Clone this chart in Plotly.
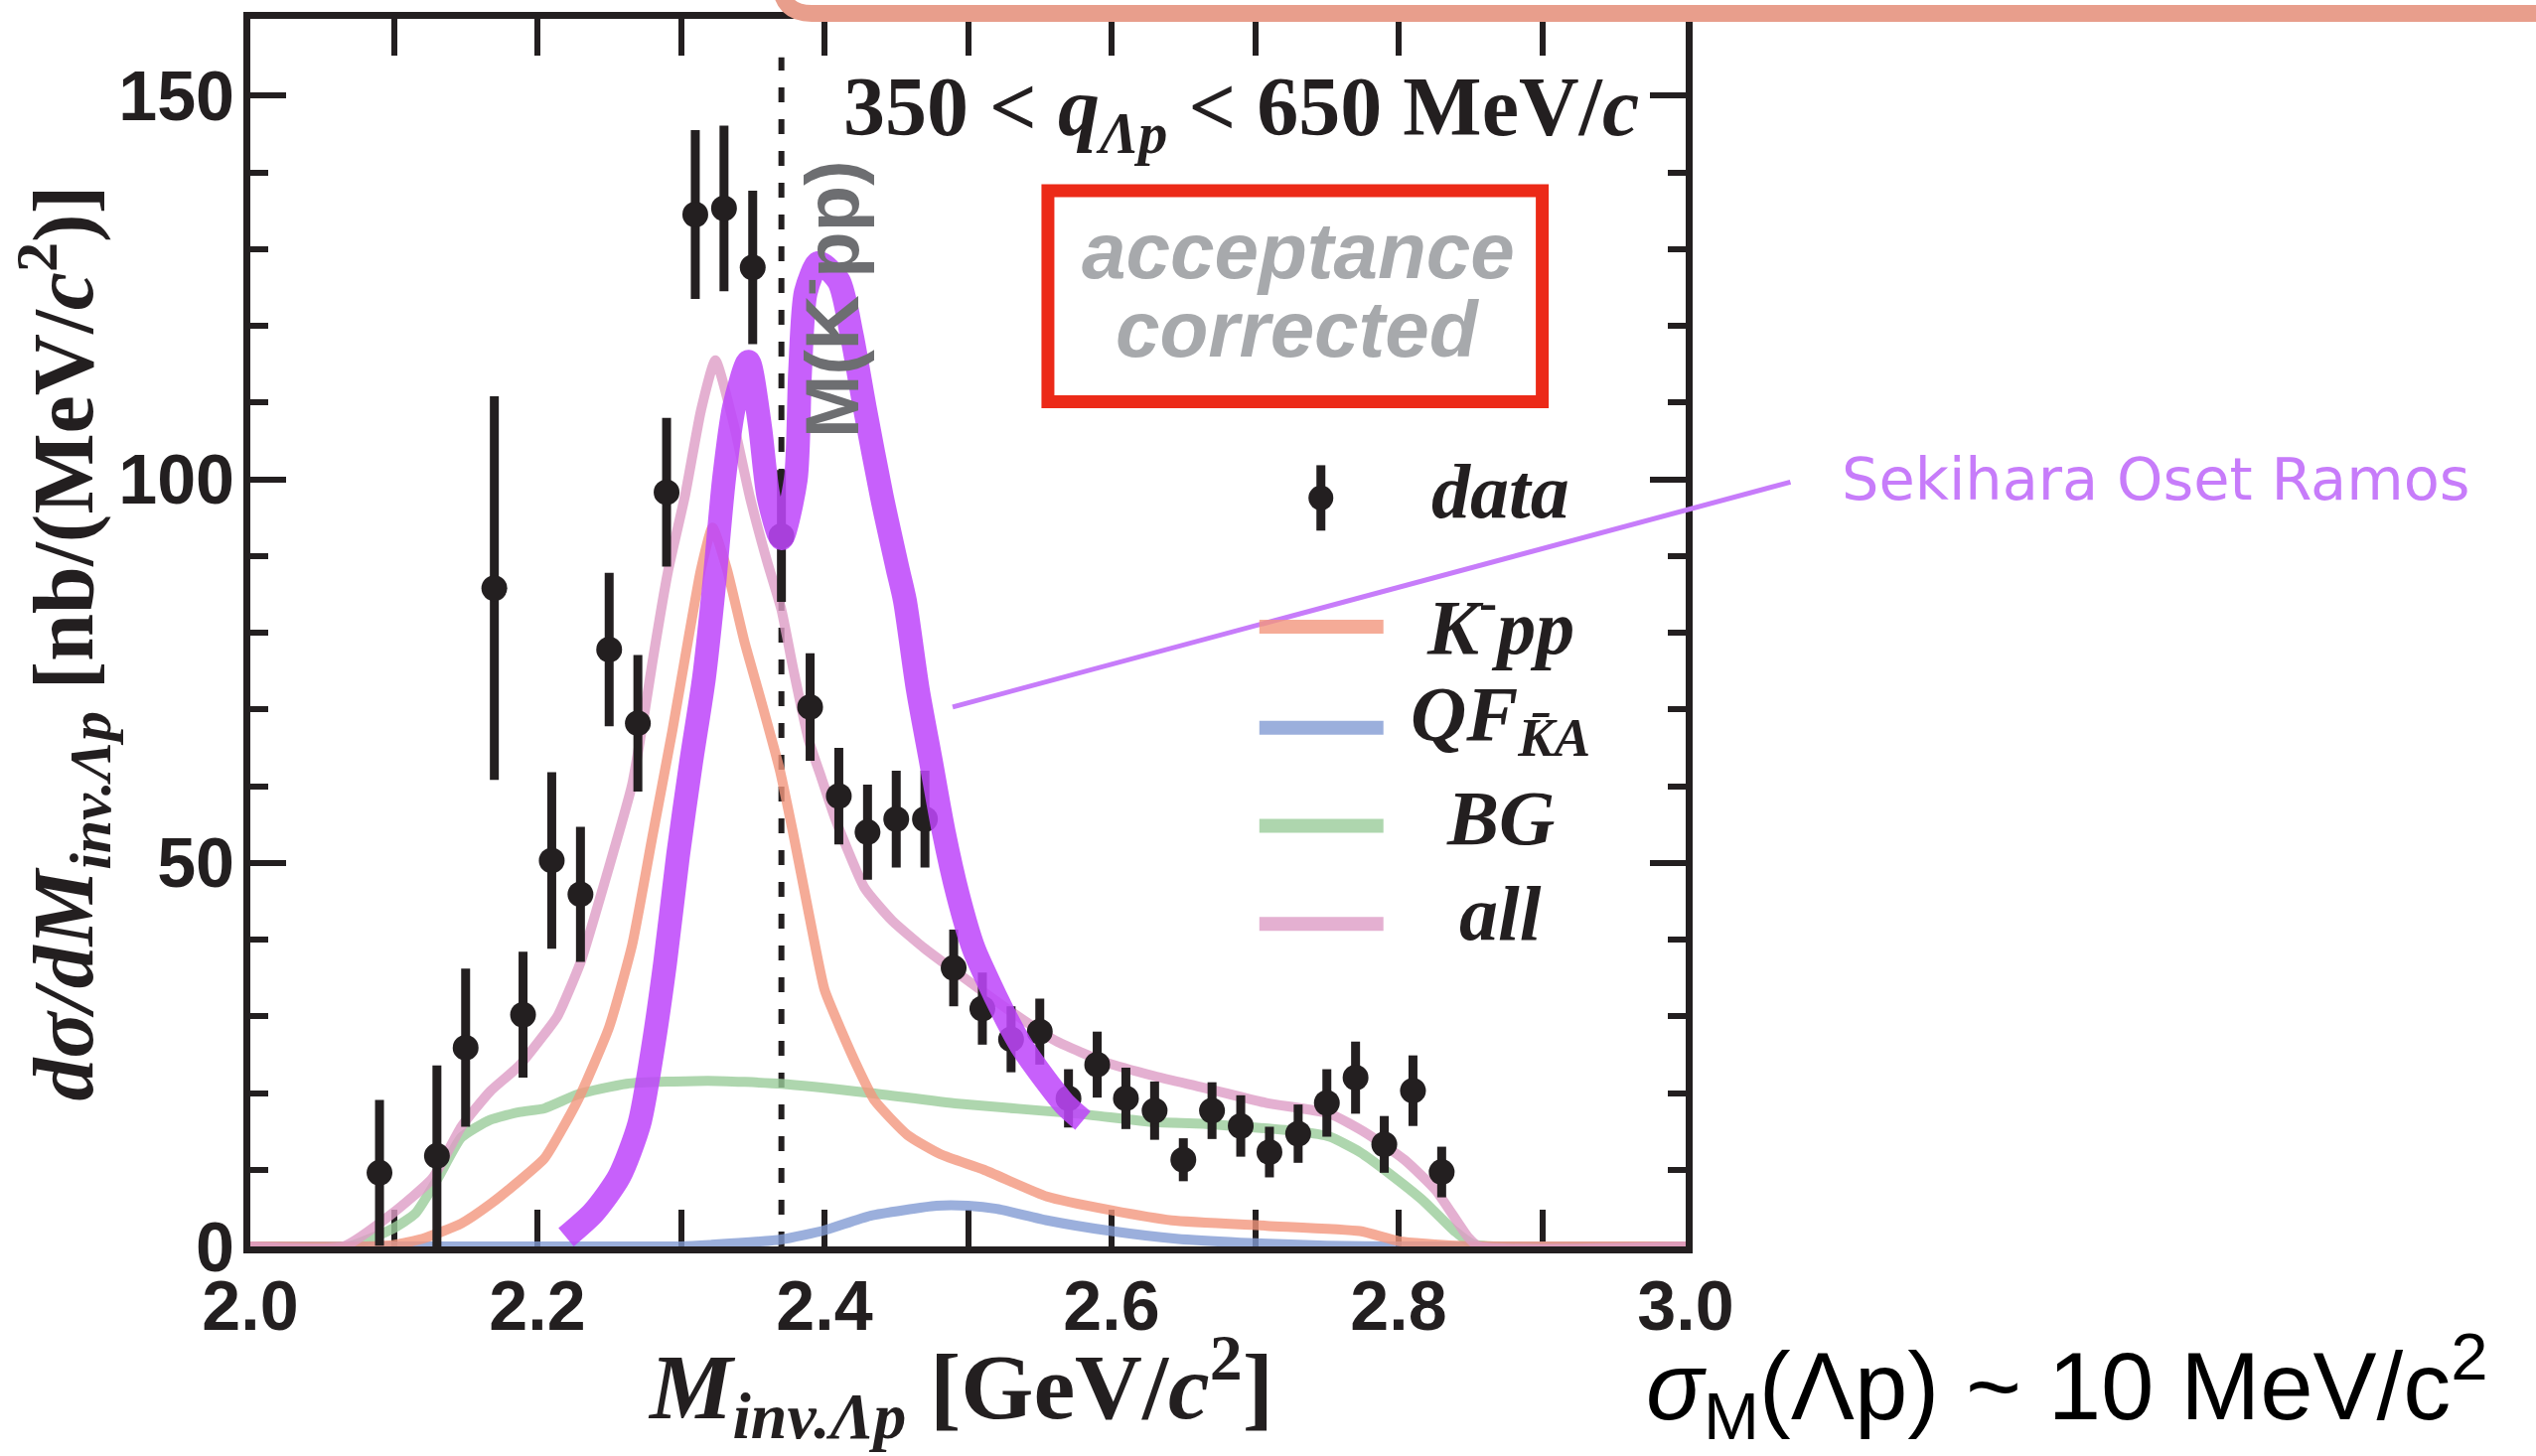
import plotly.graph_objects as go

# ---------------- data ----------------
mass = [2.09, 2.13, 2.15, 2.17, 2.19, 2.21, 2.23, 2.25, 2.27, 2.29, 2.31, 2.33, 2.35, 2.37,
        2.39, 2.41, 2.43, 2.45, 2.47, 2.49, 2.51, 2.53, 2.55, 2.57, 2.59, 2.61, 2.63, 2.65,
        2.67, 2.69, 2.71, 2.73, 2.75, 2.77, 2.79, 2.81, 2.83]
xsec = [9.6, 11.8, 25.9, 85.8, 30.2, 50.3, 45.9, 77.8, 68.2, 98.3, 134.5, 135.3, 127.6, 92.6,
        70.3, 58.7, 54.0, 55.7, 55.7, 36.3, 31.0, 27.0, 28.0, 19.3, 23.7, 19.3, 17.7, 11.3,
        17.7, 15.7, 12.3, 14.7, 18.7, 22.0, 13.3, 20.3, 9.7]
xsec_err = [9.5, 11.8, 10.3, 25.0, 8.2, 11.5, 8.8, 10.0, 8.9, 9.7, 11.0, 10.8, 10.0, 8.6,
            7.0, 6.3, 6.2, 6.3, 6.3, 5.0, 4.7, 4.3, 4.3, 3.8, 4.3, 4.0, 3.8, 2.8,
            3.7, 4.0, 3.3, 3.8, 4.4, 4.7, 3.7, 4.6, 3.3]

kpp_m = [2.00, 2.08, 2.10, 2.12, 2.147, 2.167, 2.187, 2.205, 2.228, 2.25, 2.266, 2.28, 2.294,
         2.305, 2.314, 2.322, 2.332, 2.344, 2.356, 2.369, 2.378, 2.389, 2.40, 2.412, 2.424,
         2.435, 2.458, 2.481, 2.511, 2.555, 2.60, 2.642, 2.708, 2.773, 2.80, 2.84, 3.00]
kpp_v = [0, 0, 0.2, 1.0, 3.0, 5.5, 8.5, 11.5, 19.0, 28.6, 39.3, 53.3, 67.2,
         79.0, 88.3, 93.7, 88.3, 79.0, 71.0, 62.0, 54.0, 43.5, 33.5, 28.0, 23.0,
         19.0, 14.5, 12.0, 10.0, 6.5, 4.7, 3.4, 2.7, 2.0, 0.7, 0.1, 0]

qf_m = [2.00, 2.30, 2.32, 2.37, 2.40, 2.432, 2.478, 2.50, 2.52, 2.555, 2.60, 2.645, 2.69, 2.75, 2.80, 3.00]
qf_v = [0, 0, 0.2, 0.9, 2.1, 4.0, 5.3, 5.3, 4.9, 3.4, 2.0, 1.0, 0.5, 0.1, 0, 0]

bg_m = [2.00, 2.068, 2.099, 2.115, 2.131, 2.147, 2.167, 2.187, 2.205, 2.228, 2.262, 2.319, 2.37,
        2.432, 2.493, 2.577, 2.63, 2.664, 2.73, 2.752, 2.773, 2.795, 2.817, 2.839, 2.852, 3.00]
bg_v = [0, 0, 2.3, 4.3, 9.0, 14.2, 16.5, 17.5, 18.0, 19.8, 21.2, 21.6, 21.2,
        20.0, 18.6, 17.3, 16.2, 16.0, 15.0, 14.3, 12.3, 9.3, 6.0, 2.0, 0.3, 0]

all_m = [2.00, 2.065, 2.099, 2.127, 2.147, 2.167, 2.187, 2.205, 2.214, 2.23, 2.25, 2.266, 2.275,
         2.28, 2.291, 2.303, 2.314, 2.324, 2.337, 2.348, 2.36, 2.37, 2.378, 2.389, 2.398, 2.408,
         2.428, 2.447, 2.47, 2.493, 2.527, 2.561, 2.596, 2.63, 2.664, 2.708, 2.752, 2.778,
         2.804, 2.826, 2.848, 2.856, 3.00]
all_v = [0, 0, 4.3, 8.9, 15.6, 20.2, 23.5, 27.7, 30.0, 37.0, 49.5, 60.2, 70.0,
         76.0, 88.0, 98.0, 109.0, 115.5, 107.0, 97.7, 89.3, 83.0, 75.5, 66.0, 61.0, 55.5,
         46.7, 42.5, 38.8, 35.6, 31.0, 26.8, 24.0, 22.2, 20.7, 18.7, 17.3, 14.7,
         11.3, 7.3, 1.3, 0, 0]

sor_m = [2.220, 2.239, 2.257, 2.271, 2.28, 2.289, 2.298, 2.307, 2.316, 2.323, 2.33, 2.337, 2.347,
         2.355, 2.361, 2.37, 2.38, 2.383, 2.387, 2.396, 2.41, 2.419, 2.428, 2.44, 2.451, 2.456,
         2.465, 2.474, 2.483, 2.493, 2.504, 2.515, 2.527, 2.538, 2.554, 2.568, 2.58]
sor_v = [1.2, 4.4, 9.1, 16.0, 25.3, 37.0, 51.0, 63.0, 74.0, 86.0, 100.0, 109.4, 115.3,
         107.0, 97.7, 92.3, 100.0, 114.0, 124.4, 128.2, 125.8, 118.8, 109.4, 97.7, 88.3, 84.2,
         72.6, 63.4, 54.1, 45.8, 38.8, 34.2, 29.6, 25.9, 21.7, 18.4, 16.4]

threshold_mass = 2.370
threshold_top = 155

x_tick_vals = [2.0, 2.2, 2.4, 2.6, 2.8, 3.0]
x_tick_text = ["2.0", "2.2", "2.4", "2.6", "2.8", "3.0"]
y_tick_vals = [0, 50, 100, 150]
y_tick_text = ["0", "50", "100", "150"]

# ---------------- styles ----------------
INK = "#231f20"
C_KPP = "rgba(242,150,125,0.8)"
C_QF = "rgba(130,155,211,0.8)"
C_BG = "rgba(154,204,154,0.8)"
C_ALL = "rgba(221,156,197,0.8)"
C_SOR = "rgba(190,70,250,0.86)"
C_NOTE = "#c77cfa"

W, H = 2553, 1466
LW = 7
L, R, T, B = 248 + LW / 2, 1701 - LW / 2, 13 + LW / 2, 1259 - LW / 2


def px(x):
    return (x - L) / (R - L)


def py(y):
    return (B - y) / (B - T)


fig = go.Figure()
for xs, ys, col in [(bg_m, bg_v, C_BG), (qf_m, qf_v, C_QF), (kpp_m, kpp_v, C_KPP), (all_m, all_v, C_ALL)]:
    fig.add_trace(go.Scatter(x=xs, y=ys, mode="lines",
                             line=dict(color=col, width=10, shape="spline", smoothing=0.5),
                             showlegend=False, hoverinfo="skip"))

fig.add_trace(go.Scatter(x=mass, y=xsec, mode="markers",
                         marker=dict(color=INK, size=26),
                         error_y=dict(type="data", array=xsec_err, color=INK, thickness=9, width=0),
                         showlegend=False))

fig.add_trace(go.Scatter(x=sor_m, y=sor_v, mode="lines",
                         line=dict(color=C_SOR, width=24, shape="spline", smoothing=0.7),
                         showlegend=False, hoverinfo="skip"))

shapes = []
# threshold dashed line
shapes.append(dict(type="line", xref="x", yref="y", x0=threshold_mass, x1=threshold_mass,
                   y0=0, y1=threshold_top, line=dict(color=INK, width=6, dash="15px,17px"), layer="below"))
# acceptance box
shapes.append(dict(type="rect", xref="paper", yref="paper", x0=px(1055), x1=px(1553),
                   y0=py(403), y1=py(190), line=dict(color="#ec2a18", width=13)))
# callout line
shapes.append(dict(type="line", xref="paper", yref="paper", x0=px(959), y0=py(711),
                   x1=px(1803), y1=py(484), line=dict(color=C_NOTE, width=5)))
# top decorative band
shapes.append(dict(type="path", xref="paper", yref="paper",
                   path=f"M {px(786)},{py(-40)} L {px(786)},{py(-20)} Q {px(786)},{py(11)} {px(817)},{py(11)} L {px(2600)},{py(11)}",
                   line=dict(color="#e89e8c", width=17)))
# legend samples
for yy, col in [(630, C_KPP), (732, C_QF), (831, C_BG), (930, C_ALL)]:
    shapes.append(dict(type="line", xref="paper", yref="paper", x0=px(1268), x1=px(1393),
                       y0=py(yy), y1=py(yy), line=dict(color=col, width=14)))
shapes.append(dict(type="line", xref="paper", yref="paper", x0=px(1330), x1=px(1330),
                   y0=py(533), y1=py(467), line=dict(color=INK, width=9)))
r = 12.5
shapes.append(dict(type="circle", xref="paper", yref="paper", x0=px(1330 - r), x1=px(1330 + r),
                   y0=py(500 + r), y1=py(500 - r), fillcolor=INK, line=dict(color=INK, width=0)))

SERIF = "Liberation Serif"
SANS = "Liberation Sans"
ann = []
ann.append(dict(text="350 &lt; <i>q</i><sub><i>Λp</i></sub> &lt; 650 MeV/<i>c</i>", x=px(1652), y=py(112),
                xanchor="right", yanchor="middle",
                font=dict(family=SERIF, size=84, color=INK, weight="bold")))
ann.append(dict(text="M(K<sup>-</sup>pp)", x=px(832), y=py(300), textangle=-90,
                xanchor="center", yanchor="middle",
                font=dict(family=SANS, size=76, color="#6d6e71", weight="bold")))
ann.append(dict(text="acceptance", x=px(1307), y=py(251), xanchor="center", yanchor="middle",
                font=dict(family=SANS, size=80, color="#a7a9ac", weight="bold", style="italic")))
ann.append(dict(text="corrected", x=px(1307), y=py(330), xanchor="center", yanchor="middle",
                font=dict(family=SANS, size=80, color="#a7a9ac", weight="bold", style="italic")))
ann.append(dict(text="Sekihara Oset Ramos", x=px(1853), y=py(481), xanchor="left", yanchor="middle",
                font=dict(family="DejaVu Sans", size=59, color=C_NOTE)))
ann.append(dict(text="<i>σ</i><sub>M</sub>(Λp) ~ 10 MeV/c<sup>2</sup>", x=px(1655), y=py(1396),
                xanchor="left", yanchor="middle",
                font=dict(family=SANS, size=96, color="black")))
ann.append(dict(text="<i>M</i><sub><i>inv.Λp</i></sub> [GeV/<i>c</i><sup>2</sup>]", x=px(967), y=py(1397),
                xanchor="center", yanchor="middle",
                font=dict(family=SERIF, size=94, color=INK, weight="bold")))
ann.append(dict(text="<i>dσ/dM</i><sub><i>inv.Λp</i></sub> [nb/(MeV/<i>c</i><sup>2</sup>)]", x=px(63), y=py(647),
                textangle=-90, xanchor="center", yanchor="middle",
                font=dict(family=SERIF, size=86, color=INK, weight="bold")))
# legend labels
for txt, yy in [("<i>data</i>", 493), ("<i>K</i><sup>-</sup><i>pp</i>", 624),
                ("<i>QF</i><sub><i>K̄A</i></sub>", 723), ("<i>BG</i>", 823), ("<i>all</i>", 919)]:
    ann.append(dict(text=txt, x=px(1511), y=py(yy), xanchor="center", yanchor="middle",
                    font=dict(family=SERIF, size=78, color=INK, weight="bold")))
for a in ann:
    a.update(xref="paper", yref="paper", showarrow=False)

fig.update_layout(
    width=W, height=H, autosize=False,
    margin=dict(l=L, r=W - R, t=T, b=H - B, pad=0),
    paper_bgcolor="white", plot_bgcolor="white",
    showlegend=False,
    shapes=shapes, annotations=ann,
    xaxis=dict(range=[2.0, 3.0], showgrid=False, zeroline=False,
               showline=True, linecolor=INK, linewidth=LW, mirror="allticks",
               ticks="inside", ticklen=37, tickwidth=6, tickcolor=INK,
               tickvals=x_tick_vals, ticktext=x_tick_text,
               minor=dict(dtick=0.1, tick0=2.0, ticks="inside", ticklen=37, tickwidth=6, tickcolor=INK, showgrid=False),
               tickfont=dict(family=SANS, size=70, color=INK, weight="bold"),
               ticklabelstandoff=-7, layer="below traces"),
    yaxis=dict(range=[0, 160], showgrid=False, zeroline=False,
               showline=True, linecolor=INK, linewidth=LW, mirror="allticks",
               ticks="inside", ticklen=36, tickwidth=6, tickcolor=INK,
               tickvals=y_tick_vals, ticktext=y_tick_text,
               minor=dict(dtick=10, tick0=0, ticks="inside", ticklen=18, tickwidth=6, tickcolor=INK, showgrid=False),
               tickfont=dict(family=SANS, size=70, color=INK, weight="bold"),
               ticklabelstandoff=-5, layer="below traces"),
)

fig.write_html("out.html", config={"displayModeBar": False},
               post_script="document.body.style.margin='0';document.body.style.overflow='hidden';")
